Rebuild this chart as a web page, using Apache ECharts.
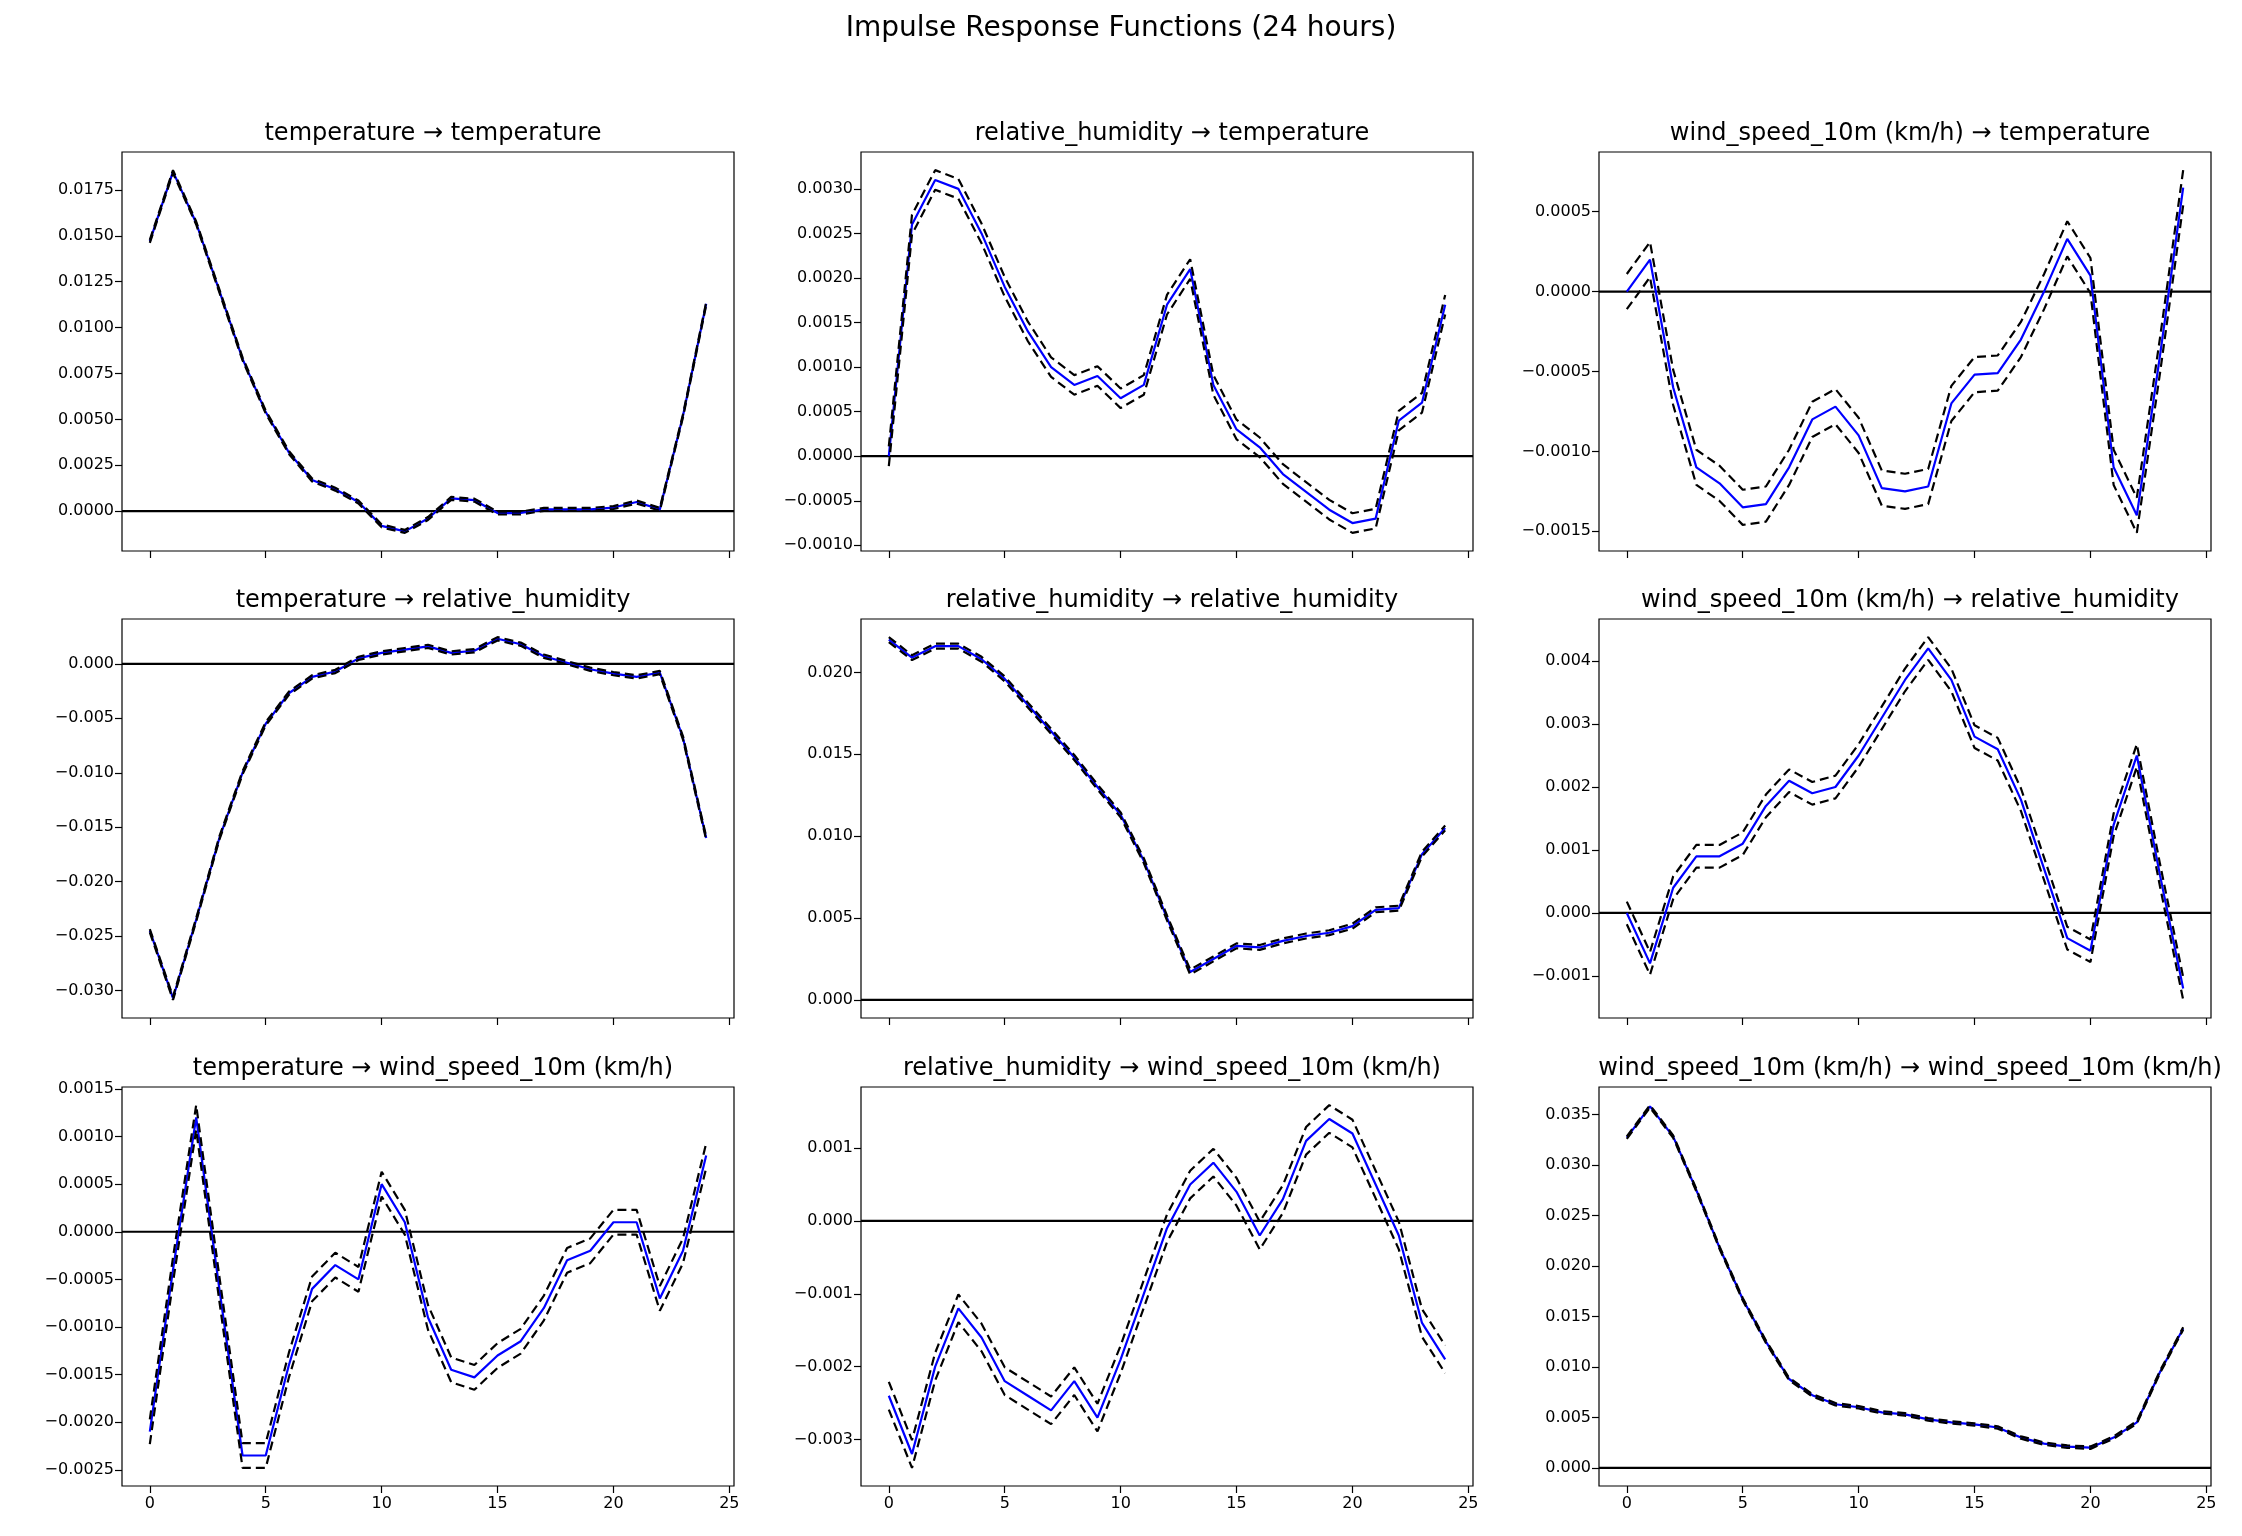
<!DOCTYPE html>
<html><head><meta charset="utf-8">
<script src="https://cdn.jsdelivr.net/npm/echarts@6/dist/echarts.min.js"></script>
<style>html,body{margin:0;padding:0;background:#fff}#c{width:2242px;height:1536px}</style>
</head><body><div id="c"></div>
<script>
const steps = [0,1,2,3,4,5,6,7,8,9,10,11,12,13,14,15,16,17,18,19,20,21,22,23,24];
const xTicks = [0,5,10,15,20,25];
const titles = [
 'temperature → temperature','relative_humidity → temperature','wind_speed_10m (km/h) → temperature',
 'temperature → relative_humidity','relative_humidity → relative_humidity','wind_speed_10m (km/h) → relative_humidity',
 'temperature → wind_speed_10m (km/h)','relative_humidity → wind_speed_10m (km/h)','wind_speed_10m (km/h) → wind_speed_10m (km/h)'];
const irf1 = [0.0147,0.0185,0.0157,0.0120,0.0083,0.0054,0.0032,0.0017,0.0012,0.0005,-0.0008,-0.0011,-0.0004,0.0007,0.0006,-0.0001,-0.0001,0.0001,0.0001,0.0001,0.0002,0.0005,0.0001,0.0052,0.0113];
const irf2 = [0.0000,0.0026,0.0031,0.0030,0.0025,0.0019,0.0014,0.0010,0.0008,0.0009,0.00065,0.0008,0.0017,0.0021,0.0008,0.0003,0.0001,-0.0002,-0.0004,-0.0006,-0.00075,-0.0007,0.0004,0.0006,0.0017];
const irf3 = [0.0,0.0002,-0.0006,-0.0011,-0.0012,-0.00135,-0.00133,-0.0011,-0.0008,-0.00072,-0.0009,-0.00123,-0.00125,-0.00122,-0.0007,-0.00052,-0.00051,-0.0003,0.0000,0.00033,0.0001,-0.0011,-0.0014,-0.0004,0.00065];
const irf4 = [-0.0245,-0.0307,-0.0235,-0.0160,-0.0100,-0.0055,-0.0027,-0.0012,-0.0007,0.0005,0.0010,0.0013,0.0016,0.0010,0.0012,0.0023,0.0018,0.0007,0.0001,-0.0005,-0.0009,-0.0012,-0.0008,-0.0068,-0.0160];
const irf5 = [0.0220,0.0209,0.0216,0.0216,0.0208,0.0196,0.0180,0.0164,0.0148,0.0130,0.0113,0.0085,0.0050,0.0017,0.0025,0.0033,0.0032,0.0036,0.0039,0.0041,0.0045,0.0055,0.0056,0.0089,0.0105];
const irf6 = [0.0,-0.0008,0.0004,0.0009,0.0009,0.0011,0.0017,0.0021,0.0019,0.0020,0.0025,0.0031,0.0037,0.0042,0.0037,0.0028,0.0026,0.0018,0.0007,-0.0004,-0.0006,0.0014,0.0025,0.0006,-0.0012];
const irf7 = [-0.0021,-0.0004,0.0012,-0.0006,-0.00235,-0.00235,-0.0014,-0.0006,-0.00035,-0.0005,0.0005,0.0001,-0.0009,-0.00145,-0.00153,-0.0013,-0.00115,-0.0008,-0.0003,-0.0002,0.0001,0.0001,-0.0007,-0.0002,0.0008];
const irf8 = [-0.0024,-0.0032,-0.0020,-0.0012,-0.0016,-0.0022,-0.0024,-0.0026,-0.0022,-0.0027,-0.0019,-0.0010,-0.0001,0.0005,0.0008,0.0004,-0.0002,0.0003,0.0011,0.0014,0.0012,0.0005,-0.0002,-0.0014,-0.0019];
const irf9 = [0.0327,0.0358,0.0328,0.0275,0.0218,0.0167,0.0125,0.0088,0.0072,0.0063,0.0060,0.0055,0.0053,0.0048,0.0045,0.0043,0.0040,0.0030,0.0024,0.0021,0.0020,0.0030,0.0045,0.0095,0.0138];
const halfWidth = [0.00008,0.00011,0.00011,0.00015,0.00015,0.00018,0.00013,0.00019,0.00012];
const yTicks = [
 [0.0000,0.0025,0.0050,0.0075,0.0100,0.0125,0.0150,0.0175],
 [-0.0010,-0.0005,0.0000,0.0005,0.0010,0.0015,0.0020,0.0025,0.0030],
 [-0.0015,-0.0010,-0.0005,0.0000,0.0005],
 [-0.030,-0.025,-0.020,-0.015,-0.010,-0.005,0.000],
 [0.000,0.005,0.010,0.015,0.020],
 [-0.001,0.000,0.001,0.002,0.003,0.004],
 [-0.0025,-0.0020,-0.0015,-0.0010,-0.0005,0.0000,0.0005,0.0010,0.0015],
 [-0.003,-0.002,-0.001,0.000,0.001],
 [0.000,0.005,0.010,0.015,0.020,0.025,0.030,0.035]];
const decimals = [4,4,4,3,3,3,4,3,3];
const irfs = [irf1,irf2,irf3,irf4,irf5,irf6,irf7,irf8,irf9];

const lefts=[122,861,1599], tops=[152,619,1087], W=612, H=399;
const F='DejaVu Sans';
const grid=[],xAxis=[],yAxis=[],series=[],title=[{text:'Impulse Response Functions (24 hours)',left:'center',top:10,textStyle:{fontFamily:F,fontSize:28,fontWeight:'normal',color:'#000'}}];
const fmt=(v,d)=>{const s=Math.abs(v).toFixed(d);return (v<-1e-12?'−':'')+s;};
irfs.forEach((irf,i)=>{
  const r=Math.floor(i/3), c=i%3;
  const lo=irf.map(v=>v-halfWidth[i]), hi=irf.map(v=>v+halfWidth[i]);
  let mn=Math.min(0,...lo), mx=Math.max(0,...hi); const pad=(mx-mn)*0.05;
  grid.push({left:lefts[c],top:tops[r],width:W,height:H,show:true,borderColor:'#000',borderWidth:1.2,backgroundColor:'transparent'});
  title.push({text:titles[i],left:lefts[c]+W/2,top:tops[r]-35,textAlign:'center',textStyle:{fontFamily:F,fontSize:24,fontWeight:'normal',color:'#000'}});
  xAxis.push({type:'value',gridIndex:i,min:-1.2,max:25.2,splitLine:{show:false},axisLine:{show:false,onZero:false},
    axisTick:{show:true,length:7,lineStyle:{color:'#000',width:1.2},customValues:xTicks},
    axisLabel:{show:r===2,customValues:xTicks,color:'#000',fontFamily:F,fontSize:16,margin:10}});
  yAxis.push({type:'value',gridIndex:i,min:mn-pad,max:mx+pad,splitLine:{show:false},axisLine:{show:false,onZero:false},
    axisTick:{show:true,length:7,lineStyle:{color:'#000',width:1.2},customValues:yTicks[i]},
    axisLabel:{customValues:yTicks[i],formatter:v=>fmt(v,decimals[i]),color:'#000',fontFamily:F,fontSize:16,margin:8}});
  series.push({type:'line',xAxisIndex:i,yAxisIndex:i,data:[[-1.2,0],[25.2,0]],symbol:'none',lineStyle:{color:'#000',width:2.2},silent:true,z:1});
  series.push({type:'line',xAxisIndex:i,yAxisIndex:i,data:steps.map((s,k)=>[s,irf[k]]),symbol:'none',lineStyle:{color:'#0000ff',width:2.2},z:2});
  [lo,hi].forEach(b=>series.push({type:'line',xAxisIndex:i,yAxisIndex:i,data:steps.map((s,k)=>[s,b[k]]),symbol:'none',lineStyle:{color:'#000',width:2.2,type:[9,5]},z:3}));
});
const ch=echarts.init(document.getElementById('c'),null,{renderer:'canvas'});
ch.setOption({animation:false,backgroundColor:'#fff',title,grid,xAxis,yAxis,series});
</script></body></html>
